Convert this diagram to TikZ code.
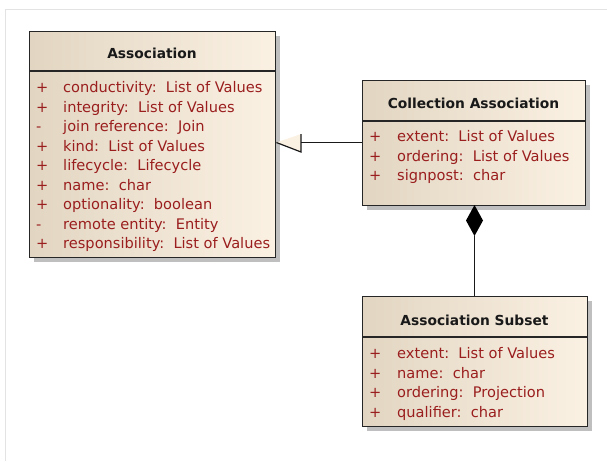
\documentclass[tikz,border=0pt]{standalone}
\usepackage{fontspec}
\setmainfont{DejaVu Sans}
\usetikzlibrary{shadows}
\definecolor{attr}{HTML}{9A1E1E}
\definecolor{boxL}{HTML}{E2D6C2}
\definecolor{boxR}{HTML}{FBF1E3}
\definecolor{frame}{HTML}{E3E3E3}
\tikzset{
  umlbox/.style={draw=black!85, line width=1.4pt, rectangle, inner sep=0pt,
    anchor=north west, left color=boxL, right color=boxR, shading angle=90,
    drop shadow={shadow xshift=4.5pt, shadow yshift=-4.5pt, fill=black!25, opacity=1}},
  titletxt/.style={font=\fontsize{13.8}{15}\selectfont\bfseries, anchor=base, inner sep=0pt, text=black!90},
  attrtxt/.style={font=\fontsize{14.6}{16}\selectfont, anchor=base west, inner sep=0pt, text=attr},
  divline/.style={draw=black!85, line width=1.2pt},
  conn/.style={draw=black!90, line width=1.2pt}
}
\begin{document}
\begin{tikzpicture}[x=1pt,y=-1pt]
\useasboundingbox (0,0) rectangle (607,461);
\draw[frame, line width=1.5pt] (5.5,461) -- (5.5,9.5) -- (607,9.5);

% Association
\node[umlbox, minimum width=246pt, minimum height=226pt] (assoc) at (29,31) {};
\draw[divline] (29,71) -- (275,71);
\node[titletxt] (assocT) at (152,58) {Association};
\foreach \v/\n/\t [count=\i from 0] in {+/a1/conductivity:\ \ List of Values, +/a2/integrity:\ \ List of Values, -/a3/join reference:\ \ Join, +/a4/kind:\ \ List of Values, +/a5/lifecycle:\ \ Lifecycle, +/a6/name:\ \ char, +/a7/optionality:\ \ boolean, -/a8/remote entity:\ \ Entity, +/a9/responsibility:\ \ List of Values}{
  \node[attrtxt] (\n v) at (36,{92.5+19.5*\i}) {\v};
  \node[attrtxt] (\n) at (63,{92.5+19.5*\i}) {\t};
}

% Collection Association
\node[umlbox, minimum width=223pt, minimum height=125pt] (coll) at (362,80) {};
\draw[divline] (362,121) -- (585,121);
\node[titletxt] (collT) at (473.5,108) {Collection Association};
\foreach \n/\t [count=\i from 0] in {c1/extent:\ \ List of Values, c2/ordering:\ \ List of Values, c3/signpost:\ \ char}{
  \node[attrtxt] (\n v) at (369,{141.5+19.5*\i}) {+};
  \node[attrtxt] (\n) at (397,{141.5+19.5*\i}) {\t};
}

% Association Subset
\node[umlbox, minimum width=225pt, minimum height=130pt] (sub) at (362,296) {};
\draw[divline] (362,337) -- (587,337);
\node[titletxt] (subT) at (474.5,325) {Association Subset};
\foreach \n/\t [count=\i from 0] in {s1/extent:\ \ List of Values, s2/name:\ \ char, s3/ordering:\ \ Projection, s4/qualifier:\ \ char}{
  \node[attrtxt] (\n v) at (369,{358.5+19.5*\i}) {+};
  \node[attrtxt] (\n) at (397,{358.5+19.5*\i}) {\t};
}

% Generalization Collection Association -> Association
\coordinate (gtip) at (assoc.east |- 0,142.5);
\coordinate (gtop) at (301,134);
\coordinate (gbot) at (301,152);
\fill[boxR] (gtip) -- (gtop) -- (gbot) -- cycle;
\draw[conn] (gtip) -- (gbot) -- (gtop);
\draw[conn] (gtop |- gtip) -- (coll.west |- gtip);

% Composition Collection Association <>- Association Subset
\coordinate (dtop) at (474.5,205);
\coordinate (dbot) at (474.5,236);
\fill[black] (dtop) -- (483,220.5) -- (dbot) -- (466,220.5) -- cycle;
\draw[conn] (dbot) -- (sub.north -| dbot);
\end{tikzpicture}
\end{document}
